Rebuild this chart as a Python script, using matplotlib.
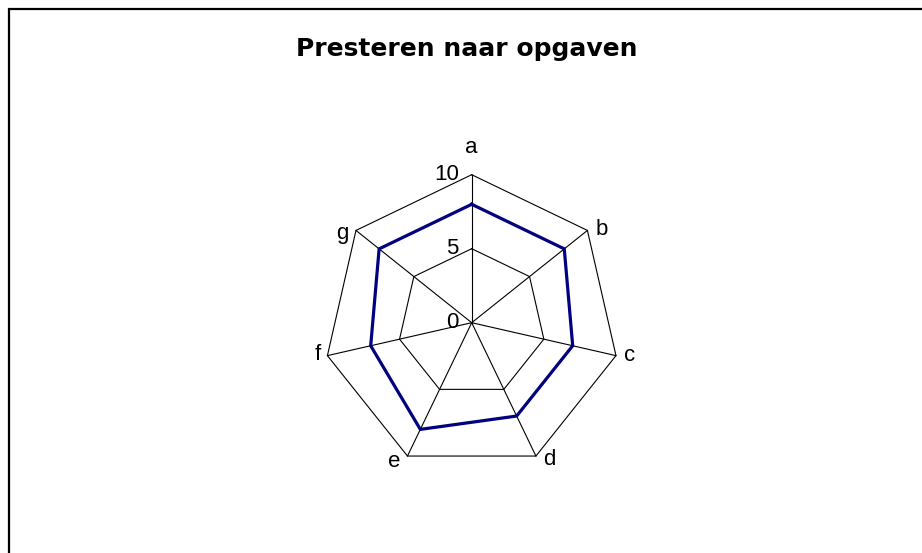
import matplotlib
matplotlib.use("Agg")
import matplotlib.pyplot as plt
from matplotlib.patches import Rectangle
import numpy as np

plt.rcParams["font.family"] = ["Liberation Sans", "DejaVu Sans"]

# data
categories = ["a", "b", "c", "d", "e", "f", "g"]
scores = [8, 8, 7, 7, 8, 7, 8]
rings = [5, 10]
tick_values = [0, 5, 10]
r_max = 10

# label offsets in pixels (dx, dy) from the outer vertex
label_offsets = [(0, 27), (14, 1), (14, 0), (13, -3), (-13, -5), (-10, 1), (-14, -3)]

W, H = 922, 553
CX, CY = 471.7, 322.7      # pixel centre of the web
R_PX = 148.0               # pixels per r_max

fig = plt.figure(figsize=(W / 100, H / 100), dpi=100)
ax = fig.add_axes([0, 0, 1, 1])
scale = R_PX / r_max
ax.set_xlim(-CX / scale, (W - CX) / scale)
ax.set_ylim(-(H - CY) / scale, CY / scale)
ax.axis("off")

n = len(categories)
angles = np.pi / 2 - np.arange(n) * 2 * np.pi / n
cos_a, sin_a = np.cos(angles), np.sin(angles)


def closed(vals):
    x = np.asarray(vals) * cos_a
    y = np.asarray(vals) * sin_a
    return np.append(x, x[0]), np.append(y, y[0])


# grid rings and spokes
for r in rings:
    gx, gy = closed([r] * n)
    ax.plot(gx, gy, color="black", lw=0.8, zorder=1)
for c, s in zip(cos_a, sin_a):
    ax.plot([0, r_max * c], [0, r_max * s], color="black", lw=0.8, zorder=1)

# series
sx, sy = closed(scores)
ax.plot(sx, sy, color="#000080", lw=2.3, zorder=3, solid_joinstyle="miter")

# category labels
for lab, c, s, off in zip(categories, cos_a, sin_a, label_offsets):
    ax.annotate(lab, (r_max * c, r_max * s), xytext=off, textcoords="offset pixels",
                ha="center", va="center", fontsize=16)

# value ticks along first axis
for v in tick_values:
    ax.annotate(str(v), (0, v), xytext=(-13, 0), textcoords="offset pixels",
                ha="right", va="center", fontsize=16)

fig.text(467 / W, 1 - 49 / H, "Presteren naar opgaven", ha="center", va="center",
         fontsize=18, fontweight="bold", family="DejaVu Sans")

# chart-area border (only top and left edges fall inside the image)
fig.patches.append(Rectangle((9.0 / W, -0.2), 1.5, 1.2 - 9.0 / H, fill=False,
                             edgecolor="black", lw=1.6, transform=fig.transFigure))

fig.savefig("out.png", dpi=100)
